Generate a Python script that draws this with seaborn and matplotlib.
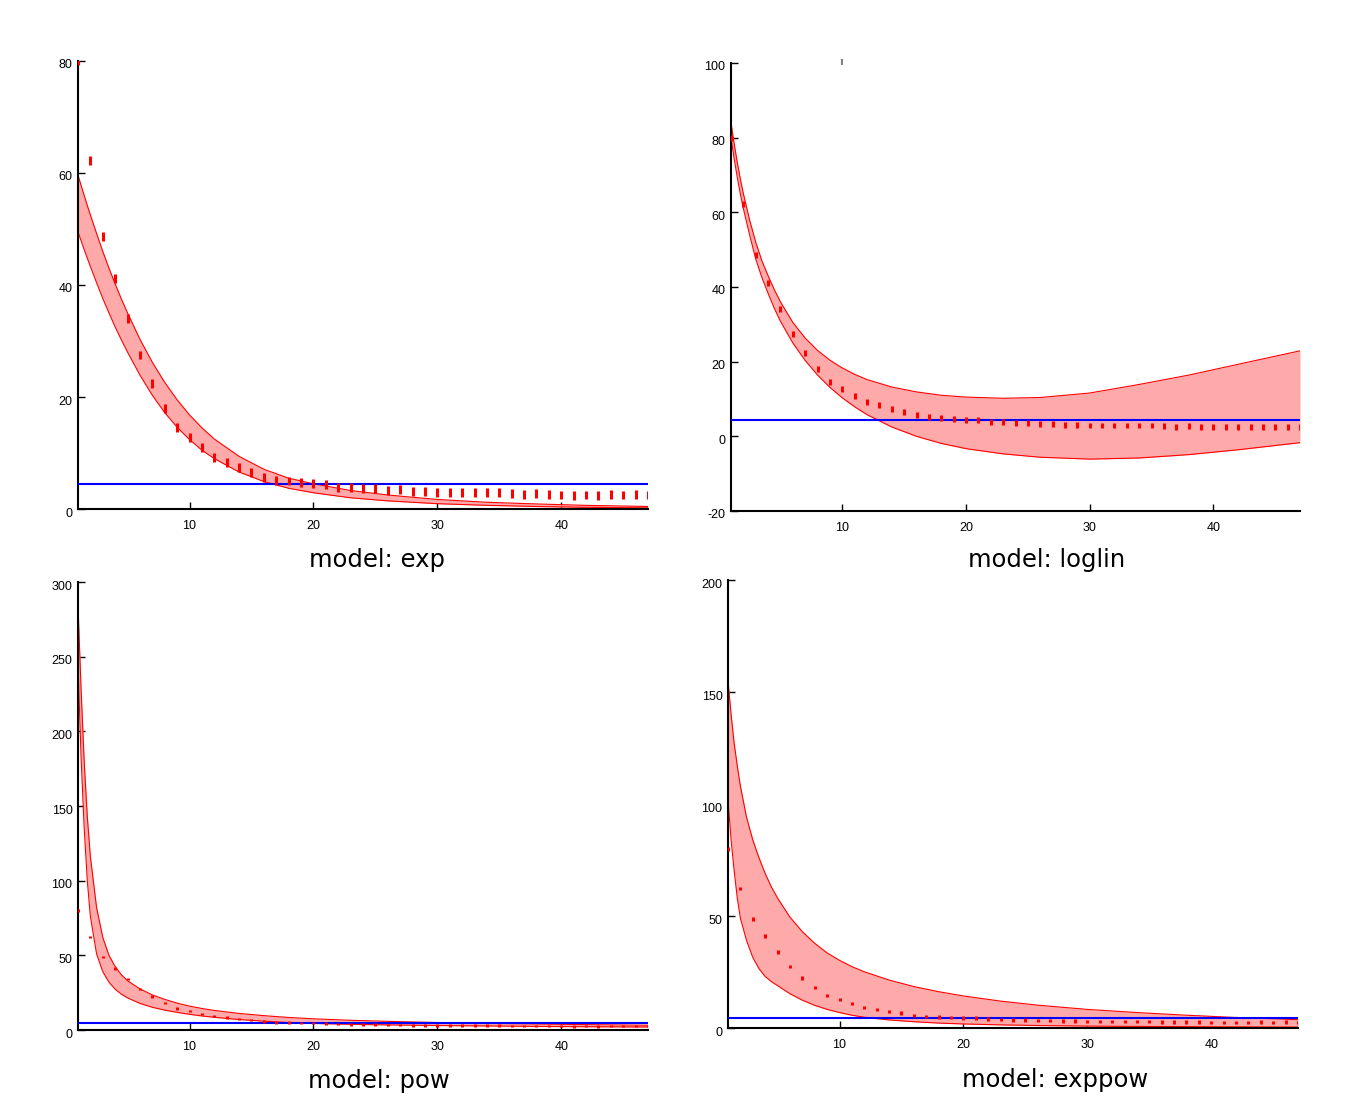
import numpy as np
import pandas as pd
import seaborn as sns
import matplotlib.pyplot as plt
from matplotlib.transforms import ScaledTranslation

# observed means (same series in every panel), lags 1..47
lag = [1, 2, 3, 4, 5, 6, 7, 8, 9, 10, 11, 12, 13, 14, 15, 16, 17, 18, 19, 20,
       21, 22, 23, 24, 25, 26, 27, 28, 29, 30, 31, 32, 33, 34, 35, 36, 37, 38,
       39, 40, 41, 42, 43, 44, 45, 46, 47]
obs_mean = [80, 62.3, 48.7, 41.1, 34.0, 27.5, 22.4, 18.0, 14.5, 12.7, 10.9, 9.2,
            8.3, 7.4, 6.6, 5.6, 5.1, 5.0, 4.7, 4.5, 4.4, 3.9, 3.8, 3.7, 3.6, 3.3,
            3.4, 3.1, 3.1, 2.9, 2.9, 2.9, 2.9, 2.9, 2.9, 2.8, 2.6, 2.7, 2.6, 2.5,
            2.4, 2.5, 2.4, 2.6, 2.5, 2.6, 2.5]
obs_se = 0.8
threshold = 4.5

# stray grey mark in the loglin panel
stray_x = [10]
stray_y = [100.3]

# fitted bands
band_x = [1, 1.25, 1.5, 1.75, 2, 2.5, 3, 3.5, 4, 4.5, 5, 6, 7, 8, 9, 10, 11,
          12, 14, 16, 18, 20, 23, 26, 30, 34, 38, 42, 47]
exp_lo = [49.5, 47.9, 46.3, 44.8, 43.3, 40.4, 37.6, 35.0, 32.5, 30.2, 28.0,
          23.9, 20.3, 17.2, 14.6, 12.4, 10.5, 9.0, 6.6, 4.9, 3.7, 2.9, 2.0,
          1.45, 0.95, 0.65, 0.45, 0.3, 0.2]
exp_hi = [59.6, 57.8, 56.0, 54.2, 52.5, 49.2, 46.0, 43.0, 40.2, 37.5, 35.0,
          30.3, 26.2, 22.6, 19.5, 16.8, 14.5, 12.5, 9.4, 7.1, 5.5, 4.5, 3.3,
          2.5, 1.7, 1.2, 0.9, 0.65, 0.45]
loglin_lo = [80, 74.5, 69.5, 65, 61, 54, 47.5, 42.5, 38.3, 34.3, 30.8, 25.0,
             20.3, 16.4, 13.1, 10.3, 7.9, 5.8, 2.5, 0.0, -1.9, -3.3, -4.7,
             -5.6, -6.1, -5.8, -4.9, -3.6, -1.7]
loglin_hi = [84, 78.5, 73.5, 69, 65, 58, 52, 47, 43, 39.3, 36, 30.5, 26.3,
             23.0, 20.4, 18.3, 16.6, 15.2, 13.2, 11.9, 11.0, 10.5, 10.2, 10.4,
             11.6, 13.9, 16.4, 19.3, 22.9]
pow_lo = [245, 182, 135, 100, 76, 51, 39, 32, 27.3, 24, 21.5, 17.8, 15.2,
          13.3, 11.8, 10.5, 9.4, 8.5, 7.0, 5.9, 5.0, 4.4, 3.8, 3.4, 3.0, 2.7,
          2.4, 2.2, 2.0]
pow_hi = [284, 228, 180, 143, 116, 82, 62, 50, 42.5, 37, 33, 27.5, 23.5, 20.5,
          18, 16, 14.4, 13.1, 11.1, 9.6, 8.4, 7.5, 6.5, 5.8, 5.0, 4.4, 4.0,
          3.6, 3.2]
exppow_lo = [102, 84, 70, 58, 49, 39, 31.5, 26.5, 23, 20.7, 18.9, 15.3, 12.4,
             10.1, 8.3, 6.9, 5.7, 4.8, 3.6, 2.8, 2.2, 1.8, 1.4, 1.1, 0.85, 0.7,
             0.6, 0.5, 0.4]
exppow_hi = [155, 140, 127, 117, 108, 94, 84, 76, 69, 63, 58, 49.5, 43, 37.8,
             33.5, 30.2, 27.4, 25.1, 21.4, 18.5, 16.2, 14.3, 12.0, 10.2, 8.3,
             6.9, 5.7, 4.7, 3.7]

W, H = 1359, 1117

sns.set_style("ticks")
plt.rcParams["font.family"] = ["Liberation Sans", "DejaVu Sans"]
plt.rcParams["axes.unicode_minus"] = False

fig = plt.figure(figsize=(W / 100, H / 100), dpi=100)

panels = [
    ("exp", exp_lo, exp_hi, (78, 61, 648, 509), (0, 80), 20, (377, 560)),
    ("loglin", loglin_lo, loglin_hi, (731, 63, 1300, 511), (-20, 100), 20, (1047, 560)),
    ("pow", pow_lo, pow_hi, (78, 582, 648, 1030), (0, 300), 50, (379, 1081)),
    ("exppow", exppow_lo, exppow_hi, (728, 580, 1298, 1028), (0, 200), 50, (1055, 1080)),
]

obs = pd.DataFrame({"lag": lag, "mean": obs_mean})
label_shift = ScaledTranslation(0, -3 / 100, fig.dpi_scale_trans)

for name, lo, hi, box, ylim, ystep, title_at in panels:
    l, t, r, b = box
    ax = fig.add_axes([l / W, 1 - b / H, (r - l) / W, (b - t) / H])

    band = pd.DataFrame({"x": band_x, "lo": lo, "hi": hi})
    ax.fill_between(band["x"], band["lo"], band["hi"], color="#ffaaaa", lw=0, zorder=1)
    sns.lineplot(data=band, x="x", y="lo", color="red", lw=0.8, ax=ax, zorder=2)
    sns.lineplot(data=band, x="x", y="hi", color="red", lw=0.8, ax=ax, zorder=2)

    ax.axhline(threshold, color="blue", lw=1.5, zorder=3)
    ax.vlines(obs["lag"], obs["mean"] - obs_se, obs["mean"] + obs_se,
              color="red", lw=2.2, zorder=4)
    if name == "loglin":
        sy = np.array(stray_y)
        ax.vlines(stray_x, sy - obs_se, sy + obs_se, color="grey", lw=1.5,
                  zorder=4, clip_on=False)

    ax.set_xlim(1, 47)
    ax.set_ylim(*ylim)
    ax.set_xticks([10, 20, 30, 40])
    ax.set_yticks(np.arange(ylim[0], ylim[1] + 1, ystep))
    ax.set_xlabel("")
    ax.set_ylabel("")
    sns.despine(ax=ax)
    for s in ("left", "bottom"):
        ax.spines[s].set_linewidth(1.5)
        ax.spines[s].set_color("black")
    ax.tick_params(direction="in", length=5, width=1, labelsize=9, colors="black")
    ax.tick_params(axis="x", pad=8)
    ax.tick_params(axis="y", pad=4)
    for lab in ax.get_yticklabels():
        lab.set_transform(lab.get_transform() + label_shift)

    fig.text(title_at[0] / W, 1 - title_at[1] / H, f"model: {name}",
             ha="center", va="center", fontsize=17.5, color="black",
             family="DejaVu Sans")

fig.savefig("out.png", dpi=100, facecolor="white")
